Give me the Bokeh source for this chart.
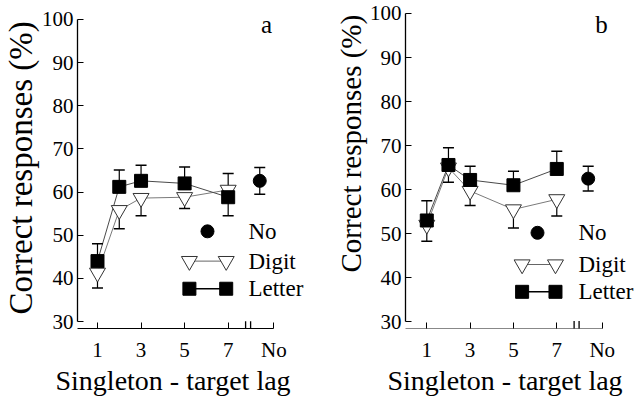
from bokeh.plotting import figure
from bokeh.layouts import row
from bokeh.models import FixedTicker, Arrow, Title
from bokeh.core.properties import value
from bokeh.embed import file_html
from bokeh.resources import INLINE

# ---------------- data ----------------
lags = [1, 2, 3, 5, 7]
tick_values = [1, 3, 5, 7]
tick_labels = ["1", "3", "5", "7"]
no_label = "No"
no_pos = 8.45          # position of the "No singleton" condition
axis_end = 9.1         # end of the x axis, carries the "No" label
break_pos = [7.8, 8.03]
y_ticks = [30, 40, 50, 60, 70, 80, 90, 100]

a_letter = [44.0, 61.2, 62.6, 62.0, 58.8]
a_letter_err = [4.0, 3.9, 3.6, 3.8, 4.3]
a_digit = [41.3, 55.8, 58.6, 58.8, 60.5]
a_digit_err = [3.5, 4.3, 4.1, 2.6, 3.8]
a_no = 62.6
a_no_err = 3.1

b_letter = [53.0, 65.6, 62.2, 61.0, 64.7]
b_letter_err = [4.5, 3.9, 3.1, 3.2, 4.0]
b_digit = [52.0, 65.0, 59.7, 55.5, 57.8]
b_digit_err = [3.7, 3.3, 3.3, 4.2, 3.8]
b_no = 62.5
b_no_err = 2.8

series_names = ["No", "Digit", "Letter"]
y_label = "Correct responses (%)"
x_label = "Singleton - target lag"

FONT = "Liberation Serif"


def outer_caps(vals, errs, others):
    return [v + e if v >= o else v - e for v, e, o in zip(vals, errs, others)]


def panel(tag, letter, letter_err, digit, digit_err, no_val, no_err, g, xaxis_color):
    p = figure(width=g["w"], height=396,
               x_range=(g["x0"], g["x1"]), y_range=(g["y0"], g["y1"]),
               output_backend="svg", toolbar_location=None,
               min_border_left=g["bl"], min_border_right=g["br"],
               min_border_top=g["bt"], min_border_bottom=g["bb"])
    p.outline_line_color = None
    p.grid.visible = False
    p.background_fill_color = "white"

    # x axis
    xa = p.xaxis[0]
    xa.ticker = FixedTicker(ticks=tick_values + [axis_end])
    overrides = {t: l for t, l in zip(tick_values, tick_labels)}
    overrides[axis_end] = no_label
    xa.major_label_overrides = overrides
    xa.bounds = (g["x0"], axis_end)
    xa.major_tick_in = 6
    xa.major_tick_out = 0
    xa.minor_tick_in = 0
    xa.minor_tick_out = 0
    xa.axis_line_color = xaxis_color
    xa.axis_line_width = 1.2
    xa.major_tick_line_color = "black"
    xa.major_label_standoff = 9
    xa.major_label_text_font = FONT
    xa.major_label_text_font_size = "21px"
    xa.major_label_text_color = "black"

    # y axis
    ya = p.yaxis[0]
    ya.ticker = FixedTicker(ticks=y_ticks)
    ya.bounds = (30, 100)
    ya.major_tick_in = 6
    ya.major_tick_out = 0
    ya.minor_tick_in = 0
    ya.minor_tick_out = 0
    ya.axis_line_color = "black"
    ya.axis_line_width = 1.3
    ya.major_label_standoff = 4
    ya.major_label_text_font = FONT
    ya.major_label_text_font_size = "21px"
    ya.major_label_text_color = "black"

    # axis titles
    xt = Title(text=x_label, align="left", offset=g["xoff"], standoff=0,
               text_font=FONT, text_font_size=g["xfs"], text_font_style="normal",
               text_color="black")
    try:
        xt.standoff = -4
    except Exception:
        pass
    p.add_layout(xt, "below")
    p.add_layout(Title(text=y_label, align="left", offset=g["yoff"], standoff=g["ystd"],
                       text_font=FONT, text_font_size=g["yfs"], text_font_style="normal",
                       text_color="black"), "left")

    # axis break
    for bx in break_pos:
        p.add_layout(Arrow(end=None, x_start=bx, x_end=bx,
                           y_start=g["y0"] - 1.7, y_end=g["y0"] + 1.7,
                           line_color="black", line_width=1.3))

    # series lines
    p.line(lags, digit, line_color="#7a7a7a", line_width=1)
    p.line(lags, letter, line_color="#4a4a4a", line_width=1)

    # error bars (outer side only, as in the original)
    d_caps = outer_caps(digit, digit_err, letter)
    l_caps = outer_caps(letter, letter_err, digit)
    p.segment(lags, digit, lags, d_caps, line_color="black", line_width=1.2)
    p.segment(lags, letter, lags, l_caps, line_color="black", line_width=1.2)
    p.scatter(lags, d_caps, marker="dash", size=11, line_color="black", line_width=1.5)
    p.scatter(lags, l_caps, marker="dash", size=11, line_color="black", line_width=1.5)
    no_caps = [no_val + no_err, no_val - no_err]
    p.segment([no_pos, no_pos], [no_val, no_val], [no_pos, no_pos], no_caps,
              line_color="black", line_width=1.2)
    p.scatter([no_pos, no_pos], no_caps, marker="dash", size=11,
              line_color="black", line_width=1.5)

    # markers
    p.scatter(lags, digit, marker="inverted_triangle", size=16,
              fill_color="white", line_color="#333333", line_width=1)
    p.scatter(lags, letter, marker="square", size=13,
              fill_color="black", line_color="black")
    p.scatter([no_pos], [no_val], marker="circle", size=13,
              fill_color="black", line_color="black")

    # legend (drawn like the original: marker - line - marker)
    lx1, lx2, lxc, ltx = g["lx1"], g["lx2"], g["lxc"], g["ltx"]
    ly_no, ly_dg, ly_lt = g["ly"]
    p.scatter([lxc], [ly_no], marker="circle", size=13, fill_color="black", line_color="black")
    p.line([lx1, lx2], [ly_dg, ly_dg], line_color="#666666", line_width=1)
    p.scatter([lx1, lx2], [ly_dg, ly_dg], marker="inverted_triangle", size=16,
              fill_color="white", line_color="#333333", line_width=1)
    p.line([lx1, lx2], [ly_lt, ly_lt], line_color="black", line_width=1.5)
    p.scatter([lx1, lx2], [ly_lt, ly_lt], marker="square", size=13,
              fill_color="black", line_color="black")
    p.text([ltx] * 3, [ly_no, ly_dg, ly_lt], text=series_names,
           text_font=value(FONT), text_font_size=value("23px"),
           text_align="left", text_baseline="middle", text_color="black")

    # panel tag
    p.text([g["tx"]], [g["ty"]], text=[tag], text_font=value(FONT),
           text_font_size=value("25px"), text_align="center",
           text_baseline="middle", text_color="black")
    return p


ga = dict(w=318, x0=0.082, x1=10.78, y0=28.39, y1=103.45, bl=77, br=8, bt=4, bb=66,
          xoff=-22, xfs="28px", yoff=14, yfs="33px", ystd=0,
          lx1=5.22, lx2=6.91, lxc=6.05, ltx=7.93, ly=(50.9, 44.0, 37.6), tx=8.76, ty=98.85)
gb = dict(w=318, x0=0.017, x1=10.68, y0=28.47, y1=102.04, bl=87, br=0, bt=4, bb=68,
          xoff=-18, xfs="28px", yoff=56, yfs="29px", ystd=0,
          lx1=5.40, lx2=6.94, lxc=6.11, ltx=8.0, ly=(50.2, 43.0, 36.8), tx=9.06, ty=97.5)

pa = panel("a", a_letter, a_letter_err, a_digit, a_digit_err, a_no, a_no_err, ga, "black")
pb = panel("b", b_letter, b_letter_err, b_digit, b_digit_err, b_no, b_no_err, gb, "#888888")

layout = row(pa, pb)
open("out.html", "w").write(file_html(layout, INLINE))
